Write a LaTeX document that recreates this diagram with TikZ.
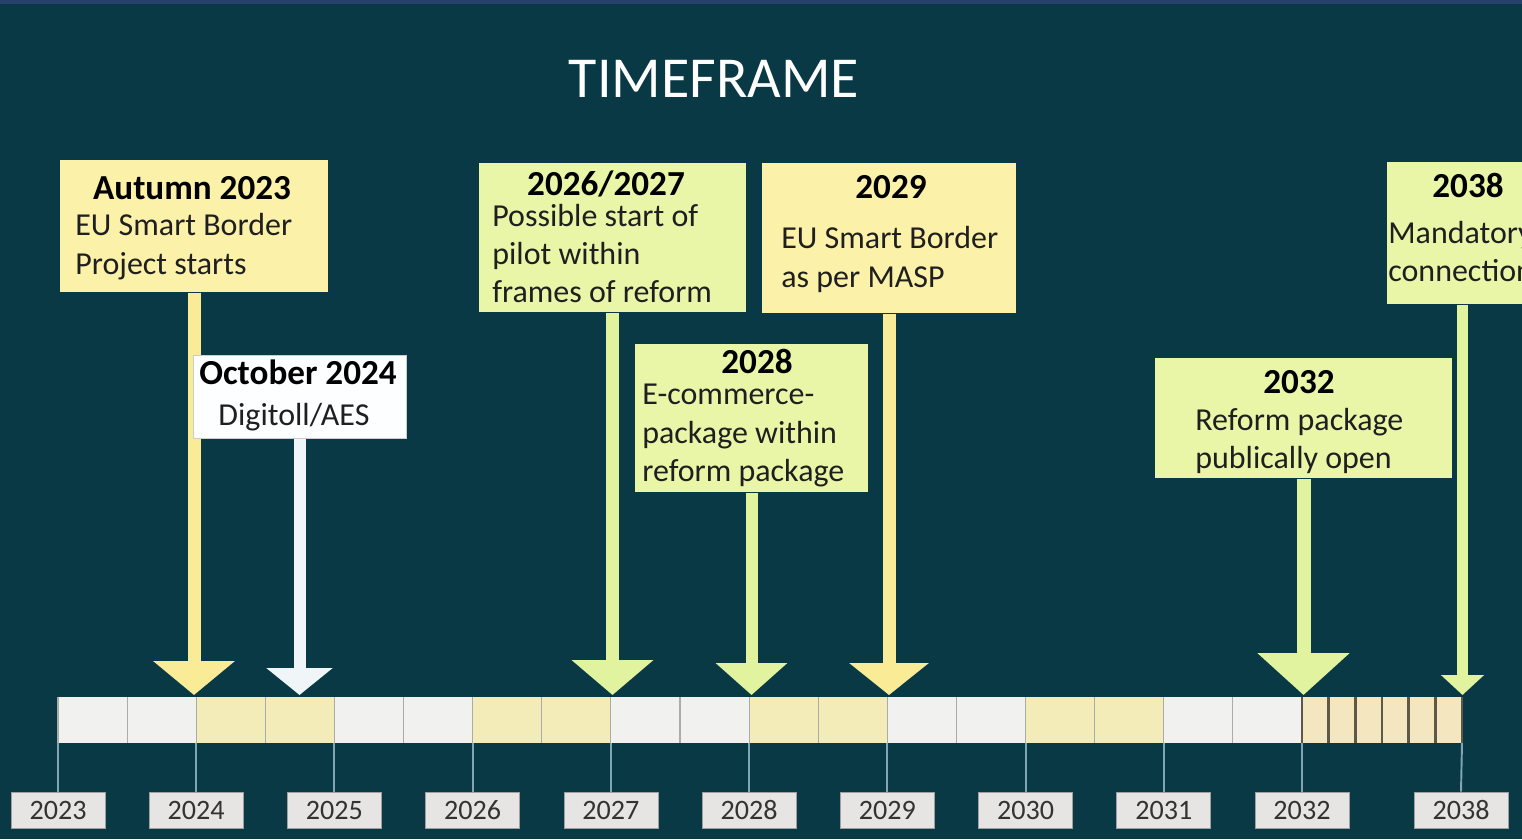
\documentclass[tikz,border=0pt]{standalone}
\usepackage{fontspec}
\setmainfont{Carlito}
\usetikzlibrary{arrows.meta}

\definecolor{bgteal}{RGB}{10,57,70}
\definecolor{topblue}{RGB}{40,64,108}
\definecolor{boxyellow}{RGB}{251,241,168}
\definecolor{boxgreen}{RGB}{233,246,168}
\definecolor{boxwhite}{RGB}{253,254,255}
\definecolor{arryellow}{RGB}{250,236,150}
\definecolor{arrgreen}{RGB}{226,243,160}
\definecolor{arrwhite}{RGB}{240,246,248}
\definecolor{cellwhite}{RGB}{241,242,240}
\definecolor{cellyellow}{RGB}{243,236,184}
\definecolor{cellbeige}{RGB}{244,230,190}
\definecolor{celledge}{RGB}{168,172,170}
\definecolor{darkedge}{RGB}{94,88,72}
\definecolor{labelgray}{RGB}{230,229,227}
\definecolor{tickblue}{RGB}{128,166,180}

\tikzset{
  eventbox/.style={rectangle, inner sep=0pt, anchor=north},
  headtext/.style={font=\bfseries\fontsize{20}{24}\selectfont, text=black, inner sep=0pt, anchor=base},
  linetext/.style={font=\fontsize{18.2}{22}\selectfont, text=black!88, inner sep=0pt, anchor=base west},
  yearlabel/.style={draw=gray!75, fill=labelgray, minimum width=1.88cm, minimum height=0.72cm,
    inner sep=0pt, font=\fontsize{16}{18}\selectfont, text=black!80},
  yeartick/.style={draw=tickblue, line width=1.1pt},
  pointer/.style n args={4}{draw=#1, line width=#2, -{Triangle[width=#3,length=#4]}}
}

\begin{document}
\begin{tikzpicture}[x=0.02cm, y=-0.02cm]

	%Background
	\useasboundingbox (0,0) rectangle (1522,839);
	\clip (0,0) rectangle (1522,839);
	\fill[bgteal] (0,0) rectangle (1522,839);
	\fill[topblue] (0,0) rectangle (1522,4);
	
	%Title
	\node (title) at (714,97) [anchor=base, font=\fontsize{33}{40}\selectfont, text=white] {TIMEFRAME};
	
	%Time bar
	\foreach \i in {0,...,17} {
		\pgfmathtruncatemacro{\odd}{mod(floor(\i/2),2)}
		\ifnum\odd=0 \def\cellcol{cellwhite}\else \def\cellcol{cellyellow}\fi
		\fill[\cellcol] (58+69.11*\i,697) rectangle (58+69.11*\i+69.11,743);
		\draw[celledge, line width=0.6pt] (58+69.11*\i,697) -- (58+69.11*\i,743);
	}
	\foreach \j in {0,...,5} {
		\fill[cellbeige] (1302+26.67*\j,697) rectangle (1302+26.67*\j+26.67,743);
		\draw[darkedge, line width=1.4pt] (1302+26.67*\j,697) -- (1302+26.67*\j,743);
	}
	\draw[darkedge, line width=1.4pt] (1462,697) -- (1462,743);
	\coordinate (bartop) at (0,695);
	
	%Years
	\foreach \yr [count=\k from 0] in {2023,...,2032} {
		\coordinate (b\yr) at (58+138.22*\k,743);
		\node (l\yr) at (58+138.22*\k,810) [yearlabel] {\yr};
		\draw[yeartick] (b\yr) -- (l\yr.north);
	}
	\coordinate (b2038) at (1462,743);
	\node (l2038) at (1461,810) [yearlabel] {2038};
	\draw[yeartick] (b2038) -- (l2038.north);
	
	%First block
	\node (autumn) at (194,160) [eventbox, fill=boxyellow, minimum width=5.36cm, minimum height=2.64cm] {};
	\draw[pointer={arryellow}{0.26cm}{1.6cm}{0.68cm}] (autumn.south) -- (autumn.south |- bartop);
	\node (autumnhead) at (192,199) [headtext] {Autumn 2023};
	\node (autumn1) at (75,235) [linetext] {EU Smart Border};
	\node (autumn2) at (75,274) [linetext] {Project starts};
	
	%Second block
	\node (october) at (299.5,355) [eventbox, fill=boxwhite, draw=gray!40, minimum width=4.26cm, minimum height=1.66cm] {};
	\draw[pointer={arrwhite}{0.24cm}{1.3cm}{0.54cm}] (october.south) -- (october.south |- bartop);
	\node (octoberhead) at (298,384) [headtext] {October 2024};
	\node (october1) at (294,425) [linetext, anchor=base] {Digitoll/AES};
	
	%Third block
	\node (pilot) at (612.5,163) [eventbox, fill=boxgreen, minimum width=5.34cm, minimum height=2.98cm] {};
	\draw[pointer={arrgreen}{0.26cm}{1.6cm}{0.7cm}] (pilot.south) -- (pilot.south |- bartop);
	\node (pilothead) at (606,195) [headtext] {2026/2027};
	\node (pilot1) at (492,226) [linetext] {Possible start of};
	\node (pilot2) at (492,264) [linetext] {pilot within};
	\node (pilot3) at (492,302) [linetext] {frames of reform};
	
	%Fourth block
	\node (ecommerce) at (751.5,344) [eventbox, fill=boxgreen, minimum width=4.66cm, minimum height=2.96cm] {};
	\draw[pointer={arrgreen}{0.24cm}{1.4cm}{0.64cm}] (ecommerce.south) -- (ecommerce.south |- bartop);
	\node (ecommercehead) at (757,373) [headtext] {2028};
	\node (ecommerce1) at (642,404) [linetext] {E-commerce-};
	\node (ecommerce2) at (642,443) [linetext] {package within};
	\node (ecommerce3) at (642,481) [linetext] {reform package};
	
	%Fifth block
	\node (masp) at (889,163) [eventbox, fill=boxyellow, minimum width=5.08cm, minimum height=3.0cm] {};
	\draw[pointer={arryellow}{0.26cm}{1.56cm}{0.64cm}] (masp.south) -- (masp.south |- bartop);
	\node (masphead) at (891,198) [headtext] {2029};
	\node (masp1) at (781,248) [linetext] {EU Smart Border};
	\node (masp2) at (781,287) [linetext] {as per MASP};
	
	%Sixth block
	\node (reform) at (1303.5,358) [eventbox, fill=boxgreen, minimum width=5.94cm, minimum height=2.4cm] {};
	\draw[pointer={arrgreen}{0.28cm}{1.8cm}{0.84cm}] (reform.south) -- (reform.south |- bartop);
	\node (reformhead) at (1299,393) [headtext] {2032};
	\node (reform1) at (1195,430) [linetext] {Reform package};
	\node (reform2) at (1195,468) [linetext] {publically open};
	
	%Seventh block (runs past the right edge)
	\node (mandatory) at (1462.5,162) [eventbox, fill=boxgreen, minimum width=3.02cm, minimum height=2.84cm] {};
	\draw[pointer={arrgreen}{0.22cm}{0.84cm}{0.4cm}] (mandatory.south) -- (mandatory.south |- bartop);
	\node (mandatoryhead) at (1468,197) [headtext] {2038};
	\node (mandatory1) at (1388,243) [linetext] {Mandatory};
	\node (mandatory2) at (1388,281) [linetext] {connection};

\end{tikzpicture}
\end{document}
